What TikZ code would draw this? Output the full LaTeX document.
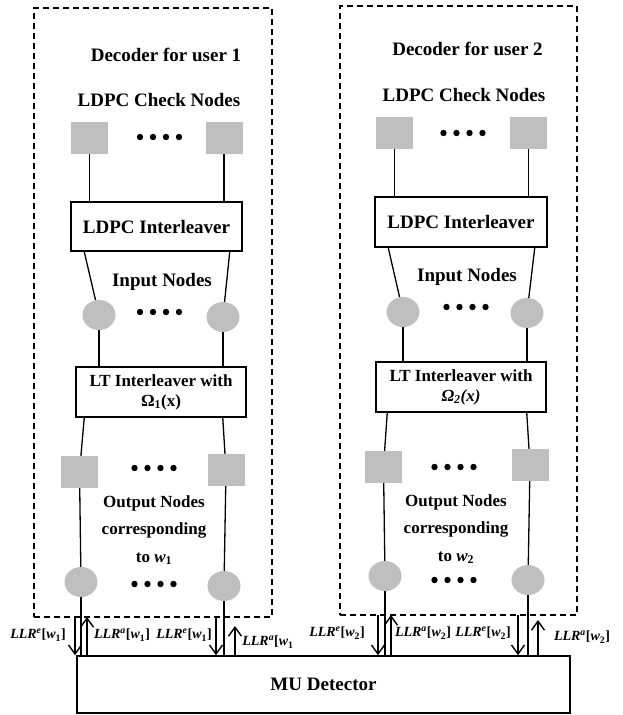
\documentclass[tikz,border=0pt]{standalone}
\usepackage{fontspec}
\setmainfont{Liberation Serif}
\usetikzlibrary{arrows.meta, calc, shapes.geometric}

\definecolor{nodegray}{RGB}{191,191,191}

\begin{document}
\begin{tikzpicture}[
    x=1pt,
    y=-1pt,
    font=\bfseries\fontsize{19}{22}\selectfont,
    chk/.style={
        rectangle,
        fill=nodegray,
        minimum width=37pt,
        minimum height=32pt,
        inner sep=0pt
    },
    var/.style={
        ellipse,
        fill=nodegray,
        minimum width=33pt,
        minimum height=30pt,
        inner sep=0pt
    },
    ilv/.style={
        draw,
        line width=1.5pt,
        inner sep=0pt,
        align=center
    },
    grp/.style={
        draw,
        dash pattern=on 6pt off 4pt,
        line width=1.3pt,
        inner sep=0pt
    },
    wire/.style={
        line width=1.3pt
    },
    flow/.style={
        -{Straight Barb[length=9pt,width=13pt]},
        line width=1.4pt
    },
    llr/.style={
        font=\bfseries\fontsize{14}{16}\selectfont,
        inner sep=0pt
    },
    small/.style={
        font=\bfseries\fontsize{17}{20}\selectfont
    }
]

\useasboundingbox (0,0) rectangle (622,715);

% Rahmen der Decoder
\node[grp, minimum width=238pt, minimum height=609pt] (dec1) at (153,312.5) {};
\node[grp, minimum width=237pt, minimum height=609pt] (dec2) at (458.5,310.5) {};

\node (title1) at (166,55) {Decoder for user 1};
\node (title2) at (467.5,49) {Decoder for user 2};

% LDPC-Pruefknoten
\node (chklab1) at (159,100) {LDPC Check Nodes};
\node (chklab2) at (464,95) {LDPC Check Nodes};

\node[chk] (chk1a) at (89.5,138) {};
\node[chk] (chk1b) at (224,138) {};
\node[chk] (chk2a) at (394.5,133) {};
\node[chk] (chk2b) at (528.5,133) {};

% LDPC-Interleaver
\node[ilv, minimum width=171pt, minimum height=49pt] (ldpc1) at (156.5,226.5) {LDPC Interleaver};
\node[ilv, minimum width=172pt, minimum height=50pt] (ldpc2) at (461,222) {LDPC Interleaver};

\draw[wire] (chk1a) -- (chk1a |- ldpc1.north);
\draw[wire] (chk1b) -- (chk1b |- ldpc1.north);
\draw[wire] (chk2a) -- (chk2a |- ldpc2.north);
\draw[wire] (chk2b) -- (chk2b |- ldpc2.north);

% Eingangsknoten
\node (inlab1) at (162,282) {Input Nodes};
\node (inlab2) at (467,277) {Input Nodes};

\node[var] (in1a) at (99,315) {};
\node[var] (in1b) at (223,317) {};
\node[var] (in2a) at (403,312) {};
\node[var] (in2b) at (527,313) {};

\draw[wire] ($(ldpc1.south west)+(14,0)$) -- (in1a);
\draw[wire] ($(ldpc1.south east)+(-13,0)$) -- (in1b);
\draw[wire] ($(ldpc2.south west)+(14,0)$) -- (in2a);
\draw[wire] ($(ldpc2.south east)+(-13,0)$) -- (in2b);

% LT-Interleaver
\node[ilv, small, minimum width=170pt, minimum height=50pt] (lt1) at (161,392)
    {LT Interleaver with\\Ω\textsubscript{1}(x)};
\node[ilv, small, minimum width=170pt, minimum height=50pt] (lt2) at (461,387)
    {LT Interleaver with\\\textit{Ω\textsubscript{2}(x)}};

\draw[wire] (in1a) -- (in1a |- lt1.north);
\draw[wire] (in1b) -- (in1b |- lt1.north);
\draw[wire] (in2a) -- (in2a |- lt2.north);
\draw[wire] (in2b) -- (in2b |- lt2.north);

% Ausgangsknoten
\node[chk] (out1a) at (79.5,472) {};
\node[chk] (out1b) at (226,470) {};
\node[chk] (out2a) at (383.5,467) {};
\node[chk] (out2b) at (530,465) {};

\draw[wire] ($(lt1.south west)+(9,0)$) -- (out1a);
\draw[wire] ($(lt1.south east)+(-24,0)$) -- (out1b);
\draw[wire] ($(lt2.south west)+(12,0)$) -- (out2a);
\draw[wire] ($(lt2.south east)+(-20,0)$) -- (out2b);

\node[small, align=center, font=\bfseries\fontsize{17}{27.5}\selectfont] (outlab1) at (154,530)
    {Output Nodes\\corresponding\\to \textit{w}\textsubscript{1}};
\node[small, align=center, font=\bfseries\fontsize{17}{27.5}\selectfont] (outlab2) at (456,529)
    {Output Nodes\\corresponding\\to \textit{w}\textsubscript{2}};

\node[var] (bit1a) at (81,582) {};
\node[var] (bit1b) at (224,586) {};
\node[var] (bit2a) at (385,576) {};
\node[var] (bit2b) at (528,580) {};

\draw[wire] (out1a) -- (bit1a);
\draw[wire] (out1b) -- (bit1b);
\draw[wire] (out2a) -- (bit2a);
\draw[wire] (out2b) -- (bit2b);

% Punktreihen
\foreach \cx/\cy in {159.5/137, 159.5/312, 154/468, 154/584, 463/133, 466/307, 454/467, 454/580} {
    \foreach \k in {0,...,3}
        \fill (\cx+\k*13-19.5,\cy) circle (3.2pt);
}

% MU-Detektor
\node[ilv, line width=1.6pt, minimum width=493pt, minimum height=57pt] (mu) at (323.5,684.5) {MU Detector};

\draw[wire] (bit1a) -- (bit1a |- mu.north);
\draw[wire] (bit1b) -- (bit1b |- mu.north);
\draw[wire] (bit2a) -- (bit2a |- mu.north);
\draw[wire] (bit2b) -- (bit2b |- mu.north);

% LLR-Austausch
\coordinate (e1a) at (75,617);
\coordinate (a1a) at (87,617);
\coordinate (e1b) at (216,617);
\coordinate (a1b) at (235,626);
\coordinate (e2a) at (378,615);
\coordinate (a2a) at (391,615);
\coordinate (e2b) at (518,615);
\coordinate (a2b) at (538,620);

\foreach \p in {e1a, e1b, e2a, e2b}
    \draw[flow] (\p) -- (\p |- mu.north);
\foreach \p in {a1a, a1b, a2a, a2b}
    \draw[flow] (\p |- mu.north) -- (\p);

\node[llr] (le1a) at (38,635) {\textit{LLR}\textsuperscript{\textit{e}}[\textit{w}\textsubscript{1}]};
\node[llr] (la1a) at (122,635) {\textit{LLR}\textsuperscript{\textit{a}}[\textit{w}\textsubscript{1}]};
\node[llr] (le1b) at (184,635) {\textit{LLR}\textsuperscript{\textit{e}}[\textit{w}\textsubscript{1}]};
\node[llr] (la1b) at (268,642) {\textit{LLR}\textsuperscript{\textit{a}}[\textit{w}\textsubscript{1}};
\node[llr] (le2a) at (337,633) {\textit{LLR}\textsuperscript{\textit{e}}[\textit{w}\textsubscript{2}]};
\node[llr] (la2a) at (423,633) {\textit{LLR}\textsuperscript{\textit{a}}[\textit{w}\textsubscript{2}]};
\node[llr] (le2b) at (483,633) {\textit{LLR}\textsuperscript{\textit{e}}[\textit{w}\textsubscript{2}]};
\node[llr] (la2b) at (582,637) {\textit{LLR}\textsuperscript{\textit{a}}[\textit{w}\textsubscript{2}]};

\end{tikzpicture}
\end{document}
